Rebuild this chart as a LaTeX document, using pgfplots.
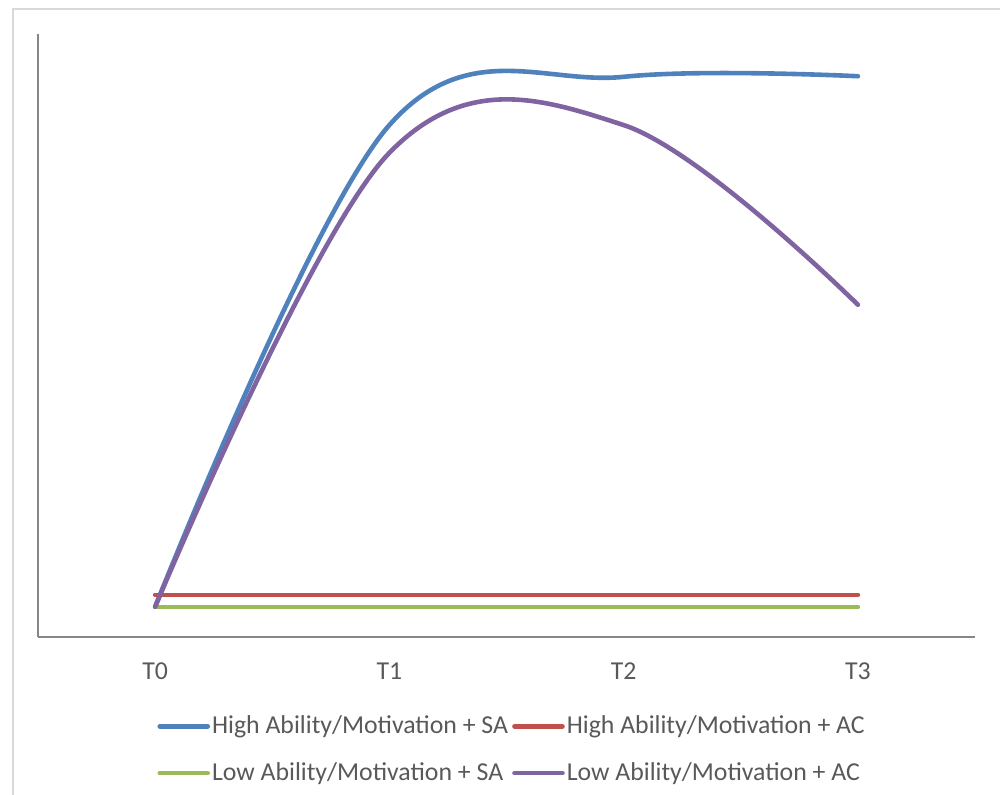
\documentclass[border=0pt]{standalone}
\usepackage{pgfplots}
\pgfplotsset{compat=1.18}
\usepackage{fontspec}
\setmainfont{Carlito}
\definecolor{sblue}{HTML}{4F81BD}
\definecolor{sred}{HTML}{C0504D}
\definecolor{sgreen}{HTML}{9BBB59}
\definecolor{spurple}{HTML}{8064A2}
\definecolor{txtgray}{HTML}{595959}
\definecolor{axgray}{HTML}{868686}
\definecolor{framegray}{HTML}{D9D9D9}
\begin{document}
\begin{tikzpicture}[x=0.5pt,y=-0.5pt]
\useasboundingbox (0,0) rectangle (1000,794);
\draw[framegray, line width=1pt] (13,900) -- (13,9) -- (1100,9);
\begin{axis}[
  at={(38pt*0.5,-637pt*0.5)}, anchor=south west,
  scale only axis,
  width=468.5pt, height=301.5pt,
  xmin=-0.5, xmax=3.5, ymin=0, ymax=100,
  axis x line*=bottom, axis y line*=left,
  axis line style={-, axgray, line width=0.8pt},
  xtick={0,1,2,3}, xticklabels={T0,T1,T2,T3},
  ytick=\empty,
  major tick length=0pt,
  xticklabel style={font=\fontsize{12.9}{14}\selectfont, text=txtgray, yshift=-9.5pt},
  legend columns=2,
  legend style={at={(0.506,-0.12)}, anchor=north, draw=none, fill=none,
    font=\fontsize{12.9}{14}\selectfont, text=txtgray,
    nodes={inner sep=1pt}, row sep=11pt,
    /tikz/every even column/.append style={column sep=1pt}},
  legend cell align=left,
  legend image code/.code={\draw[line cap=round] (0pt,0pt) -- (24pt,0pt);},
  every axis plot/.append style={line width=2.3pt, line cap=round, smooth, tension=0.6},
  clip=false,
]
\addplot[sblue] coordinates {(0,5.0) (1,84.9) (2,92.9) (3,93.0)};
\addlegendentry{High Ability/Motivation + SA}
\addplot[sred] coordinates {(0,7.0) (1,7.0) (2,7.0) (3,7.0)};
\addlegendentry{High Ability/Motivation + AC}
\addplot[sgreen] coordinates {(0,5.0) (1,5.0) (2,5.0) (3,5.0)};
\addlegendentry{Low Ability/Motivation + SA}
\addplot[spurple] coordinates {(0,5.0) (1,80.3) (2,84.9) (3,55.1)};
\addlegendentry{Low Ability/Motivation + AC}
\end{axis}
\end{tikzpicture}
\end{document}
